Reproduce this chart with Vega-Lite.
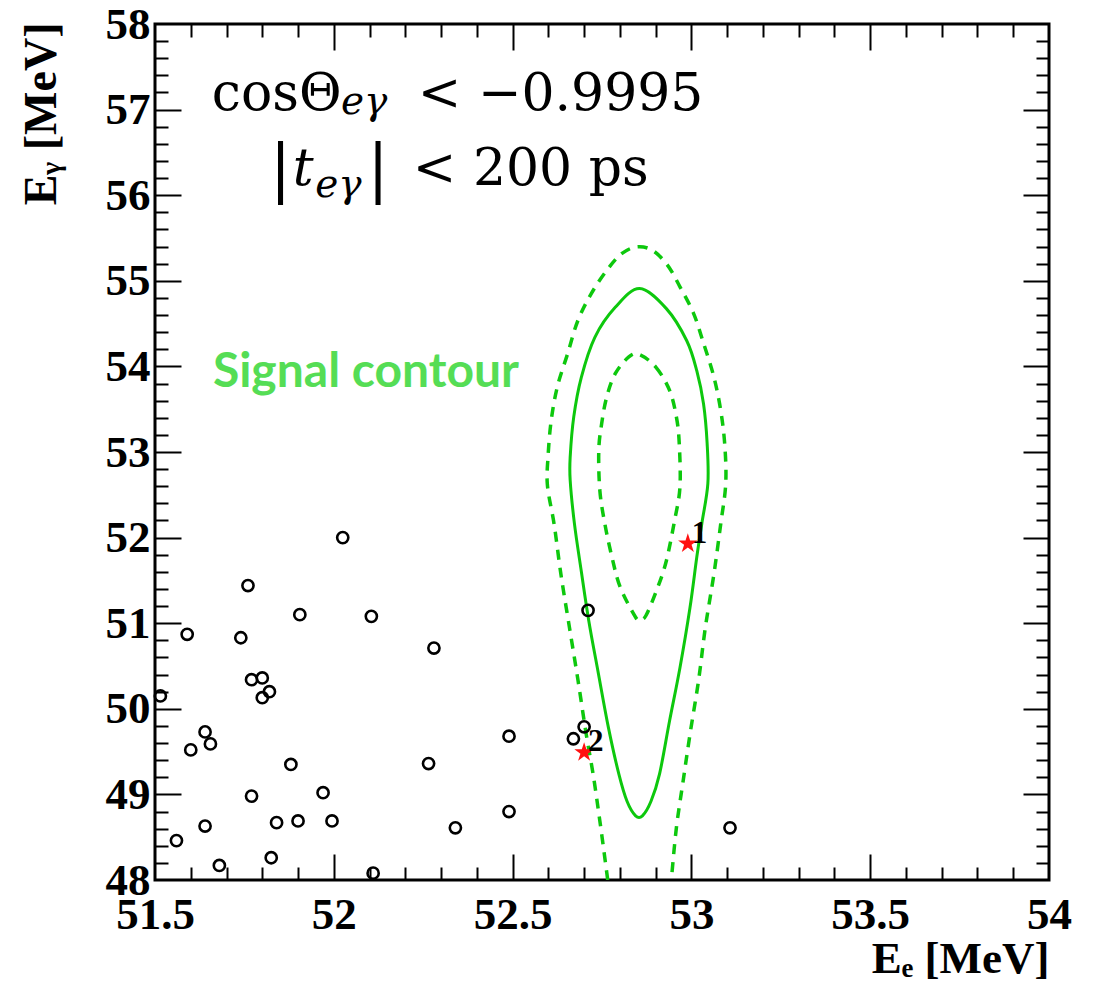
{
  "$schema": "https://vega.github.io/schema/vega-lite/v6.json",
  "width": 894,
  "height": 856,
  "autosize": {"type": "none"},
  "padding": {"left": 155, "top": 24, "right": 50, "bottom": 106},
  "background": "white",
  "config": {
    "view": {"stroke": "black", "strokeWidth": 3},
    "axis": {"grid": false, "domain": false}
  },
  "resolve": {"axis": {"x": "independent", "y": "independent"}},
  "datasets": {
    "pts": [
      {"x": 52.025, "y": 52.0}, {"x": 51.76, "y": 51.44}, {"x": 51.905, "y": 51.10}, {"x": 52.105, "y": 51.08},
      {"x": 51.59, "y": 50.87}, {"x": 51.74, "y": 50.83}, {"x": 52.28, "y": 50.71}, {"x": 51.77, "y": 50.34},
      {"x": 51.80, "y": 50.36}, {"x": 51.82, "y": 50.20}, {"x": 51.80, "y": 50.13}, {"x": 51.515, "y": 50.15},
      {"x": 51.64, "y": 49.73}, {"x": 51.655, "y": 49.59}, {"x": 51.60, "y": 49.52}, {"x": 52.49, "y": 49.68},
      {"x": 52.265, "y": 49.36}, {"x": 51.88, "y": 49.35}, {"x": 51.77, "y": 48.98}, {"x": 51.97, "y": 49.02},
      {"x": 52.49, "y": 48.80}, {"x": 51.64, "y": 48.63}, {"x": 51.84, "y": 48.67}, {"x": 51.90, "y": 48.69},
      {"x": 51.995, "y": 48.69}, {"x": 52.34, "y": 48.61}, {"x": 51.56, "y": 48.46}, {"x": 51.825, "y": 48.26},
      {"x": 51.68, "y": 48.17}, {"x": 52.11, "y": 48.08}, {"x": 53.108, "y": 48.61}, {"x": 52.711, "y": 51.15},
      {"x": 52.70, "y": 49.79}, {"x": 52.67, "y": 49.65}
    ],
    "stars": [
      {"n": "1", "x": 52.99, "y": 51.93},
      {"n": "2", "x": 52.70, "y": 49.49}
    ],
    "contours": [
      {"c": "solid", "i": 0, "x": 52.855, "y": 54.91}, {"c": "solid", "i": 1, "x": 52.930, "y": 54.675},
      {"c": "solid", "i": 2, "x": 52.987, "y": 54.30}, {"c": "solid", "i": 3, "x": 53.015, "y": 53.95},
      {"c": "solid", "i": 4, "x": 53.034, "y": 53.56}, {"c": "solid", "i": 5, "x": 53.044, "y": 53.10},
      {"c": "solid", "i": 6, "x": 53.046, "y": 52.63}, {"c": "solid", "i": 7, "x": 53.029, "y": 52.16},
      {"c": "solid", "i": 8, "x": 53.015, "y": 51.77}, {"c": "solid", "i": 9, "x": 52.996, "y": 51.18},
      {"c": "solid", "i": 10, "x": 52.968, "y": 50.48}, {"c": "solid", "i": 11, "x": 52.939, "y": 49.86},
      {"c": "solid", "i": 12, "x": 52.911, "y": 49.24}, {"c": "solid", "i": 13, "x": 52.887, "y": 48.92},
      {"c": "solid", "i": 14, "x": 52.863, "y": 48.75}, {"c": "solid", "i": 15, "x": 52.844, "y": 48.75},
      {"c": "solid", "i": 16, "x": 52.820, "y": 48.92}, {"c": "solid", "i": 17, "x": 52.797, "y": 49.24},
      {"c": "solid", "i": 18, "x": 52.768, "y": 49.78}, {"c": "solid", "i": 19, "x": 52.740, "y": 50.41},
      {"c": "solid", "i": 20, "x": 52.713, "y": 51.03}, {"c": "solid", "i": 21, "x": 52.692, "y": 51.61},
      {"c": "solid", "i": 22, "x": 52.673, "y": 52.16}, {"c": "solid", "i": 23, "x": 52.661, "y": 52.67},
      {"c": "solid", "i": 24, "x": 52.661, "y": 52.94}, {"c": "solid", "i": 25, "x": 52.671, "y": 53.41},
      {"c": "solid", "i": 26, "x": 52.692, "y": 53.87}, {"c": "solid", "i": 27, "x": 52.730, "y": 54.34},
      {"c": "solid", "i": 28, "x": 52.787, "y": 54.69},

      {"c": "outer", "i": 0, "x": 52.766, "y": 48.0}, {"c": "outer", "i": 1, "x": 52.744, "y": 48.69},
      {"c": "outer", "i": 2, "x": 52.725, "y": 49.24}, {"c": "outer", "i": 3, "x": 52.706, "y": 49.70},
      {"c": "outer", "i": 4, "x": 52.683, "y": 50.33}, {"c": "outer", "i": 5, "x": 52.659, "y": 50.95},
      {"c": "outer", "i": 6, "x": 52.635, "y": 51.575}, {"c": "outer", "i": 7, "x": 52.616, "y": 52.16},
      {"c": "outer", "i": 8, "x": 52.597, "y": 52.63}, {"c": "outer", "i": 9, "x": 52.599, "y": 52.94},
      {"c": "outer", "i": 10, "x": 52.608, "y": 53.37}, {"c": "outer", "i": 11, "x": 52.625, "y": 53.76},
      {"c": "outer", "i": 12, "x": 52.654, "y": 54.15}, {"c": "outer", "i": 13, "x": 52.683, "y": 54.54},
      {"c": "outer", "i": 14, "x": 52.720, "y": 54.85}, {"c": "outer", "i": 15, "x": 52.763, "y": 55.12},
      {"c": "outer", "i": 16, "x": 52.806, "y": 55.32}, {"c": "outer", "i": 17, "x": 52.845, "y": 55.395},
      {"c": "outer", "i": 18, "x": 52.885, "y": 55.37}, {"c": "outer", "i": 19, "x": 52.930, "y": 55.20},
      {"c": "outer", "i": 20, "x": 52.968, "y": 54.93}, {"c": "outer", "i": 21, "x": 53.006, "y": 54.62},
      {"c": "outer", "i": 22, "x": 53.034, "y": 54.27}, {"c": "outer", "i": 23, "x": 53.063, "y": 53.875},
      {"c": "outer", "i": 24, "x": 53.082, "y": 53.485}, {"c": "outer", "i": 25, "x": 53.093, "y": 53.10},
      {"c": "outer", "i": 26, "x": 53.096, "y": 52.63}, {"c": "outer", "i": 27, "x": 53.082, "y": 52.16},
      {"c": "outer", "i": 28, "x": 53.063, "y": 51.575}, {"c": "outer", "i": 29, "x": 53.039, "y": 50.95},
      {"c": "outer", "i": 30, "x": 53.020, "y": 50.33}, {"c": "outer", "i": 31, "x": 52.996, "y": 49.70},
      {"c": "outer", "i": 32, "x": 52.977, "y": 49.16}, {"c": "outer", "i": 33, "x": 52.958, "y": 48.61},
      {"c": "outer", "i": 34, "x": 52.944, "y": 48.0},

      {"c": "inner", "i": 0, "x": 52.854, "y": 54.14}, {"c": "inner", "i": 1, "x": 52.901, "y": 53.99},
      {"c": "inner", "i": 2, "x": 52.939, "y": 53.72}, {"c": "inner", "i": 3, "x": 52.958, "y": 53.41},
      {"c": "inner", "i": 4, "x": 52.966, "y": 53.10}, {"c": "inner", "i": 5, "x": 52.968, "y": 52.59},
      {"c": "inner", "i": 6, "x": 52.953, "y": 52.20}, {"c": "inner", "i": 7, "x": 52.930, "y": 51.73},
      {"c": "inner", "i": 8, "x": 52.906, "y": 51.42}, {"c": "inner", "i": 9, "x": 52.873, "y": 51.09},
      {"c": "inner", "i": 10, "x": 52.857, "y": 51.05}, {"c": "inner", "i": 11, "x": 52.844, "y": 51.07},
      {"c": "inner", "i": 12, "x": 52.801, "y": 51.42}, {"c": "inner", "i": 13, "x": 52.778, "y": 51.77},
      {"c": "inner", "i": 14, "x": 52.758, "y": 52.16}, {"c": "inner", "i": 15, "x": 52.744, "y": 52.55},
      {"c": "inner", "i": 16, "x": 52.741, "y": 53.02}, {"c": "inner", "i": 17, "x": 52.749, "y": 53.33},
      {"c": "inner", "i": 18, "x": 52.763, "y": 53.64}, {"c": "inner", "i": 19, "x": 52.787, "y": 53.915},
      {"c": "inner", "i": 20, "x": 52.825, "y": 54.11}
    ],
    "mathMain": [
      {"t": "cosΘ", "x": 51.659, "y": 56.995},
      {"t": "< −0.9995", "x": 52.235, "y": 56.995},
      {"t": "< 200 ps", "x": 52.221, "y": 56.12}
    ],
    "mathItalic": [
      {"t": "t", "x": 51.885, "y": 56.12}
    ],
    "mathSub": [
      {"t": "eγ", "x": 52.020, "y": 56.95},
      {"t": "eγ", "x": 51.948, "y": 55.98}
    ],
    "mathBars": [
      {"t": "|", "x": 51.851, "y": 56.06},
      {"t": "|", "x": 52.124, "y": 56.06}
    ],
    "note": [
      {"t": "Signal contour", "x": 51.662, "y": 53.76}
    ]
  },
  "layer": [
    {
      "data": {"name": "contours"},
      "transform": [{"filter": "datum.c == 'solid'"}],
      "mark": {"type": "line", "color": "#0dc80d", "strokeWidth": 3, "clip": true, "interpolate": "cardinal-closed"},
      "encoding": {
        "x": {"field": "x", "type": "quantitative", "scale": {"domain": [51.5, 54], "nice": false, "zero": false},
          "axis": {"orient": "bottom", "labels": false, "title": null, "ticks": true, "tickSize": -26, "tickWidth": 2, "tickColor": "black",
            "values": [52, 52.5, 53, 53.5]}},
        "y": {"field": "y", "type": "quantitative", "scale": {"domain": [48, 58], "nice": false, "zero": false},
          "axis": {"orient": "left", "labels": false, "title": null, "ticks": true, "tickSize": -26, "tickWidth": 2, "tickColor": "black",
            "values": [49, 50, 51, 52, 53, 54, 55, 56, 57]}},
        "order": {"field": "i", "type": "quantitative"}
      }
    },
    {
      "data": {"name": "contours"},
      "transform": [{"filter": "datum.c == 'outer'"}],
      "mark": {"type": "line", "color": "#0dc80d", "strokeWidth": 3.5, "strokeDash": [10, 8], "clip": true, "interpolate": "catmull-rom"},
      "encoding": {
        "x": {"field": "x", "type": "quantitative", "scale": {"domain": [51.5, 54], "nice": false, "zero": false},
          "axis": {"orient": "bottom", "labels": false, "title": null, "ticks": true, "tickSize": -13, "tickWidth": 2, "tickColor": "black",
            "values": [51.6, 51.7, 51.8, 51.9, 52.1, 52.2, 52.3, 52.4, 52.6, 52.7, 52.8, 52.9, 53.1, 53.2, 53.3, 53.4, 53.6, 53.7, 53.8, 53.9]}},
        "y": {"field": "y", "type": "quantitative", "scale": {"domain": [48, 58], "nice": false, "zero": false},
          "axis": {"orient": "left", "labels": false, "title": null, "ticks": true, "tickSize": -13, "tickWidth": 2, "tickColor": "black",
            "values": [48.2, 48.4, 48.6, 48.8, 49.2, 49.4, 49.6, 49.8, 50.2, 50.4, 50.6, 50.8, 51.2, 51.4, 51.6, 51.8, 52.2, 52.4, 52.6, 52.8, 53.2, 53.4, 53.6, 53.8, 54.2, 54.4, 54.6, 54.8, 55.2, 55.4, 55.6, 55.8, 56.2, 56.4, 56.6, 56.8, 57.2, 57.4, 57.6, 57.8]}},
        "order": {"field": "i", "type": "quantitative"}
      }
    },
    {
      "data": {"name": "contours"},
      "transform": [{"filter": "datum.c == 'inner'"}],
      "mark": {"type": "line", "color": "#0dc80d", "strokeWidth": 3.5, "strokeDash": [10, 8], "clip": true, "interpolate": "cardinal-closed"},
      "encoding": {
        "x": {"field": "x", "type": "quantitative", "scale": {"domain": [51.5, 54], "nice": false, "zero": false}, "axis": null},
        "y": {"field": "y", "type": "quantitative", "scale": {"domain": [48, 58], "nice": false, "zero": false}, "axis": null},
        "order": {"field": "i", "type": "quantitative"}
      }
    },
    {
      "data": {"name": "pts"},
      "mark": {"type": "point", "shape": "circle", "filled": false, "stroke": "black", "strokeWidth": 2.6, "size": 125, "opacity": 1},
      "encoding": {
        "x": {"field": "x", "type": "quantitative", "scale": {"domain": [51.5, 54], "nice": false, "zero": false},
          "axis": {"orient": "bottom", "ticks": false, "labels": true, "values": [51.5, 52, 52.5, 53, 53.5, 54], "format": "~g",
            "labelFont": "Liberation Serif", "labelFontWeight": "bold", "labelFontSize": 45, "labelColor": "black",
            "labelPadding": 12, "labelFlush": false, "labelOverlap": false,
            "title": "Eₑ [MeV]", "titleFont": "Liberation Serif", "titleFontWeight": "bold", "titleFontSize": 45, "titleColor": "black",
            "titleAnchor": "end", "titleAlign": "right", "titleX": 894, "titleY": 92, "titleBaseline": "alphabetic"}},
        "y": {"field": "y", "type": "quantitative", "scale": {"domain": [48, 58], "nice": false, "zero": false},
          "axis": {"orient": "left", "ticks": false, "labels": true, "values": [48, 49, 50, 51, 52, 53, 54, 55, 56, 57, 58], "format": "~g",
            "labelFont": "Liberation Serif", "labelFontWeight": "bold", "labelFontSize": 45, "labelColor": "black",
            "labelPadding": 5, "labelFlush": false, "labelOverlap": false,
            "title": "Eᵧ [MeV]", "titleFont": "Liberation Serif", "titleFontWeight": "bold", "titleFontSize": 46, "titleColor": "black",
            "titleAnchor": "end", "titleAlign": "right", "titleAngle": 270, "titleX": -100, "titleY": -2, "titleBaseline": "alphabetic"}}
      }
    },
    {
      "data": {"name": "stars"},
      "mark": {"type": "point", "shape": "M0,-1L0.225,-0.309L0.951,-0.309L0.363,0.118L0.588,0.809L0,0.382L-0.588,0.809L-0.363,0.118L-0.951,-0.309L-0.225,-0.309Z", "filled": true, "fill": "#ff1010", "strokeWidth": 0, "size": 420, "opacity": 1},
      "encoding": {
        "x": {"field": "x", "type": "quantitative", "scale": {"domain": [51.5, 54], "nice": false, "zero": false},
          "axis": {"orient": "top", "labels": false, "title": null, "ticks": true, "tickSize": -26, "tickWidth": 2, "tickColor": "black",
            "values": [52, 52.5, 53, 53.5]}},
        "y": {"field": "y", "type": "quantitative", "scale": {"domain": [48, 58], "nice": false, "zero": false},
          "axis": {"orient": "right", "labels": false, "title": null, "ticks": true, "tickSize": -26, "tickWidth": 2, "tickColor": "black",
            "values": [49, 50, 51, 52, 53, 54, 55, 56, 57]}}
      }
    },
    {
      "data": {"name": "stars"},
      "mark": {"type": "text", "font": "Liberation Serif", "fontWeight": "bold", "fontSize": 31, "color": "black", "align": "left", "baseline": "alphabetic", "dx": 4, "dy": -1},
      "encoding": {
        "x": {"field": "x", "type": "quantitative", "scale": {"domain": [51.5, 54], "nice": false, "zero": false},
          "axis": {"orient": "top", "labels": false, "title": null, "ticks": true, "tickSize": -13, "tickWidth": 2, "tickColor": "black",
            "values": [51.6, 51.7, 51.8, 51.9, 52.1, 52.2, 52.3, 52.4, 52.6, 52.7, 52.8, 52.9, 53.1, 53.2, 53.3, 53.4, 53.6, 53.7, 53.8, 53.9]}},
        "y": {"field": "y", "type": "quantitative", "scale": {"domain": [48, 58], "nice": false, "zero": false},
          "axis": {"orient": "right", "labels": false, "title": null, "ticks": true, "tickSize": -13, "tickWidth": 2, "tickColor": "black",
            "values": [48.2, 48.4, 48.6, 48.8, 49.2, 49.4, 49.6, 49.8, 50.2, 50.4, 50.6, 50.8, 51.2, 51.4, 51.6, 51.8, 52.2, 52.4, 52.6, 52.8, 53.2, 53.4, 53.6, 53.8, 54.2, 54.4, 54.6, 54.8, 55.2, 55.4, 55.6, 55.8, 56.2, 56.4, 56.6, 56.8, 57.2, 57.4, 57.6, 57.8]}},
        "text": {"field": "n", "type": "nominal"}
      }
    },
    {
      "data": {"name": "note"},
      "mark": {"type": "text", "font": "Lato", "fontWeight": "bold", "fontSize": 48, "color": "#55dd55", "align": "left", "baseline": "alphabetic"},
      "encoding": {
        "x": {"field": "x", "type": "quantitative", "scale": {"domain": [51.5, 54], "nice": false, "zero": false}, "axis": null},
        "y": {"field": "y", "type": "quantitative", "scale": {"domain": [48, 58], "nice": false, "zero": false}, "axis": null},
        "text": {"field": "t", "type": "nominal"}
      }
    },
    {
      "data": {"name": "mathMain"},
      "mark": {"type": "text", "font": "DejaVu Serif", "fontSize": 52, "color": "black", "align": "left", "baseline": "alphabetic"},
      "encoding": {
        "x": {"field": "x", "type": "quantitative", "scale": {"domain": [51.5, 54], "nice": false, "zero": false}, "axis": null},
        "y": {"field": "y", "type": "quantitative", "scale": {"domain": [48, 58], "nice": false, "zero": false}, "axis": null},
        "text": {"field": "t", "type": "nominal"}
      }
    },
    {
      "data": {"name": "mathItalic"},
      "mark": {"type": "text", "font": "DejaVu Serif", "fontStyle": "italic", "fontSize": 52, "color": "black", "align": "left", "baseline": "alphabetic"},
      "encoding": {
        "x": {"field": "x", "type": "quantitative", "scale": {"domain": [51.5, 54], "nice": false, "zero": false}, "axis": null},
        "y": {"field": "y", "type": "quantitative", "scale": {"domain": [48, 58], "nice": false, "zero": false}, "axis": null},
        "text": {"field": "t", "type": "nominal"}
      }
    },
    {
      "data": {"name": "mathSub"},
      "mark": {"type": "text", "font": "DejaVu Serif", "fontStyle": "italic", "fontSize": 39, "color": "black", "align": "left", "baseline": "alphabetic"},
      "encoding": {
        "x": {"field": "x", "type": "quantitative", "scale": {"domain": [51.5, 54], "nice": false, "zero": false}, "axis": null},
        "y": {"field": "y", "type": "quantitative", "scale": {"domain": [48, 58], "nice": false, "zero": false}, "axis": null},
        "text": {"field": "t", "type": "nominal"}
      }
    },
    {
      "data": {"name": "mathBars"},
      "mark": {"type": "text", "font": "DejaVu Serif", "fontSize": 64, "color": "black", "align": "center", "baseline": "alphabetic"},
      "encoding": {
        "x": {"field": "x", "type": "quantitative", "scale": {"domain": [51.5, 54], "nice": false, "zero": false}, "axis": null},
        "y": {"field": "y", "type": "quantitative", "scale": {"domain": [48, 58], "nice": false, "zero": false}, "axis": null},
        "text": {"field": "t", "type": "nominal"}
      }
    }
  ]
}
